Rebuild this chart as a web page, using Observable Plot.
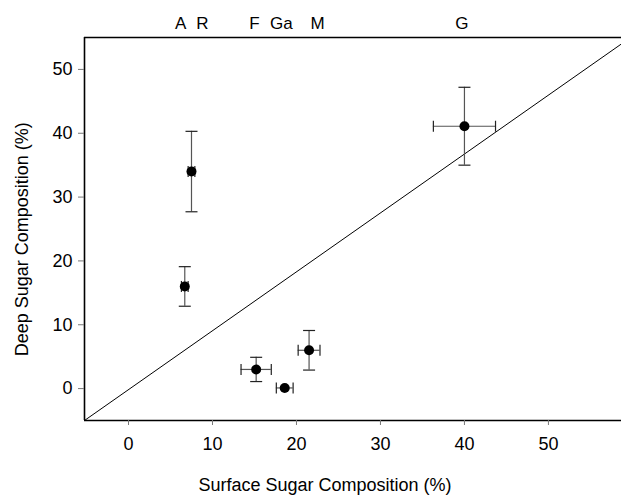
<!DOCTYPE html>
<html>
<head>
<meta charset="utf-8">
<script src="https://cdn.jsdelivr.net/npm/d3@7"></script>
<script src="https://cdn.jsdelivr.net/npm/@observablehq/plot@0.6"></script>
<style>
  html, body { margin: 0; padding: 0; background: #fff; }
  svg { display: block; }
</style>
</head>
<body>
<div id="chart"></div>
<script>
// Data
const sugars     = ["A", "R", "F", "Ga", "M", "G"];
const surface    = [6.7, 7.5, 15.2, 18.6, 21.5, 40.0];
const surfaceErr = [0.4, 0.4, 1.8, 1.0, 1.3, 3.7];
const deep       = [16.0, 34.0, 3.0, 0.1, 6.0, 41.1];
const deepErr    = [3.1, 6.3, 1.9, 0, 3.1, 6.1];
// positions of the sugar labels along the top (surface %)
const labelPos   = [6.2, 8.8, 15.0, 18.2, 22.5, 39.7];
const xTicks = [0, 10, 20, 30, 40, 50];
const yTicks = [0, 10, 20, 30, 40, 50];
// reference line endpoints
const refX = [-5.24, 58.7];
const refY = [-5, 54.0];

const xDomain = [-5.24, 58.7];
const yDomain = [-5, 55];

const rows = sugars.map((s, i) => ({
  sugar: s, x: surface[i], xe: surfaceErr[i], y: deep[i], ye: deepErr[i], lx: labelPos[i]
}));
const refLine = refX.map((x, i) => ({x, y: refY[i]}));

const capH = { draw(ctx) { ctx.moveTo(-6, 0); ctx.lineTo(6, 0); } };
const capV = { draw(ctx) { ctx.moveTo(0, -5.5); ctx.lineTo(0, 5.5); } };

const yRows = rows.filter(d => d.ye > 0);
const xRows = rows.filter(d => d.xe > 0);

const font = "'Liberation Sans', Arial, sans-serif";

const chart = Plot.plot({
  width: 621,
  height: 496,
  marginLeft: 84,
  marginRight: 0,
  marginTop: 37,
  marginBottom: 76,
  style: { fontFamily: font, fontSize: "18px", background: "#fff", color: "#000", overflow: "visible" },
  x: { domain: xDomain },
  y: { domain: yDomain },
  marks: [
    Plot.line(refLine, { x: "x", y: "y", stroke: "#000", strokeWidth: 1, clip: true }),
    // error bars
    Plot.ruleX(yRows, { x: "x", y1: d => d.y - d.ye, y2: d => d.y + d.ye, stroke: "#555", strokeWidth: 1.2 }),
    Plot.ruleY(xRows, { y: "y", x1: d => d.x - d.xe, x2: d => d.x + d.xe, stroke: "#555", strokeWidth: 1.2 }),
    Plot.dot(yRows, { x: "x", y: d => d.y + d.ye, symbol: capH, stroke: "#222", fill: "none", strokeWidth: 1.2 }),
    Plot.dot(yRows, { x: "x", y: d => d.y - d.ye, symbol: capH, stroke: "#222", fill: "none", strokeWidth: 1.2 }),
    Plot.dot(xRows, { x: d => d.x - d.xe, y: "y", symbol: capV, stroke: "#222", fill: "none", strokeWidth: 1.2 }),
    Plot.dot(xRows, { x: d => d.x + d.xe, y: "y", symbol: capV, stroke: "#222", fill: "none", strokeWidth: 1.2 }),
    Plot.dot(rows, { x: "x", y: "y", r: 5, fill: "#000", stroke: "none" }),
    // frame (left, bottom, top)
    Plot.ruleX([xDomain[0]], { stroke: "#000", strokeWidth: 1.6 }),
    Plot.ruleY(yDomain, { stroke: "#000", strokeWidth: 1.6 }),
    // axes
    Plot.axisX({ ticks: xTicks, tickSize: 5, tickPadding: 12, fontSize: 18, stroke: "#777", fill: "#000", label: null }),
    Plot.axisY({ ticks: yTicks, tickSize: 6, tickPadding: 6, fontSize: 18, stroke: "#777", fill: "#000", label: null }),
    // sugar labels along the top
    Plot.text(rows, { x: "lx", text: "sugar", frameAnchor: "top", dy: -14, fontSize: 17, fill: "#000", lineAnchor: "middle" }),
    // axis titles
    Plot.text(["Surface Sugar Composition (%)"], { x: 23.4, frameAnchor: "bottom", dy: 65, fontSize: 18, fill: "#000", textAnchor: "middle", lineAnchor: "middle" }),
    Plot.text(["Deep Sugar Composition (%)"], { y: 23.4, frameAnchor: "left", dx: -62, rotate: -90, fontSize: 18, fill: "#000", textAnchor: "middle", lineAnchor: "middle" })
  ]
});

document.getElementById("chart").appendChild(chart);
</script>
</body>
</html>
